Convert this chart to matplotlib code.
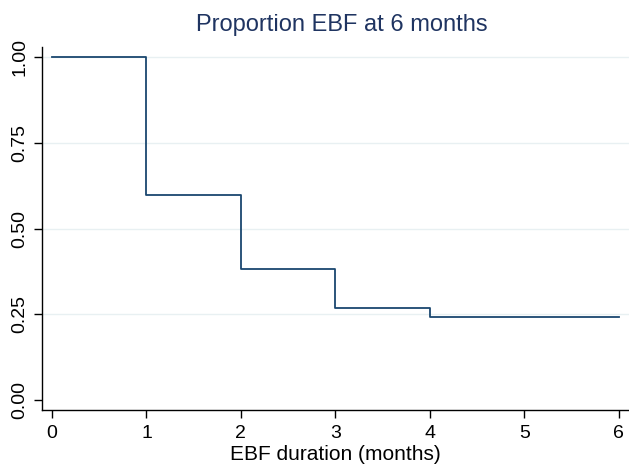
import matplotlib
matplotlib.use("Agg")
import matplotlib.pyplot as plt

# Kaplan-Meier style step estimate
times = [0, 1, 2, 3, 4, 6]
survival = [1.0, 0.597, 0.382, 0.268, 0.243, 0.243]
x_ticks = [0, 1, 2, 3, 4, 5, 6]
y_ticks = [0.0, 0.25, 0.50, 0.75, 1.00]
y_labels = ["0.00", "0.25", "0.50", "0.75", "1.00"]

plt.rcParams["font.family"] = ["Liberation Sans", "DejaVu Sans"]

fig = plt.figure(figsize=(6.29, 4.71), dpi=100)
ax = fig.add_axes([0.0668, 0.1295, 0.9332, 0.7713])

for y in [0.25, 0.50, 0.75, 1.00]:
    ax.axhline(y, color="#e8f0f2", linewidth=1.0, zorder=0)

ax.step(times, survival, where="post", color="#1a476f", linewidth=1.3, zorder=2)

ax.set_xlim(-0.106, 6.11)
ax.set_ylim(-0.029, 1.03)
ax.set_xticks(x_ticks)
ax.set_yticks(y_ticks)
ax.set_yticklabels(y_labels, rotation=90, va="center")
ax.tick_params(axis="both", direction="out", length=6, width=1, labelsize=14,
               colors="black")
ax.tick_params(axis="x", pad=5)
ax.tick_params(axis="y", pad=4)

for side in ["top", "right"]:
    ax.spines[side].set_visible(False)
for side in ["left", "bottom"]:
    ax.spines[side].set_linewidth(1.0)

ax.set_xlabel("EBF duration (months)", fontsize=15, labelpad=2)
ax.set_title("Proportion EBF at 6 months", fontsize=17, color="#1f3461",
             pad=11, x=0.51)

fig.savefig("out.png", dpi=100)
